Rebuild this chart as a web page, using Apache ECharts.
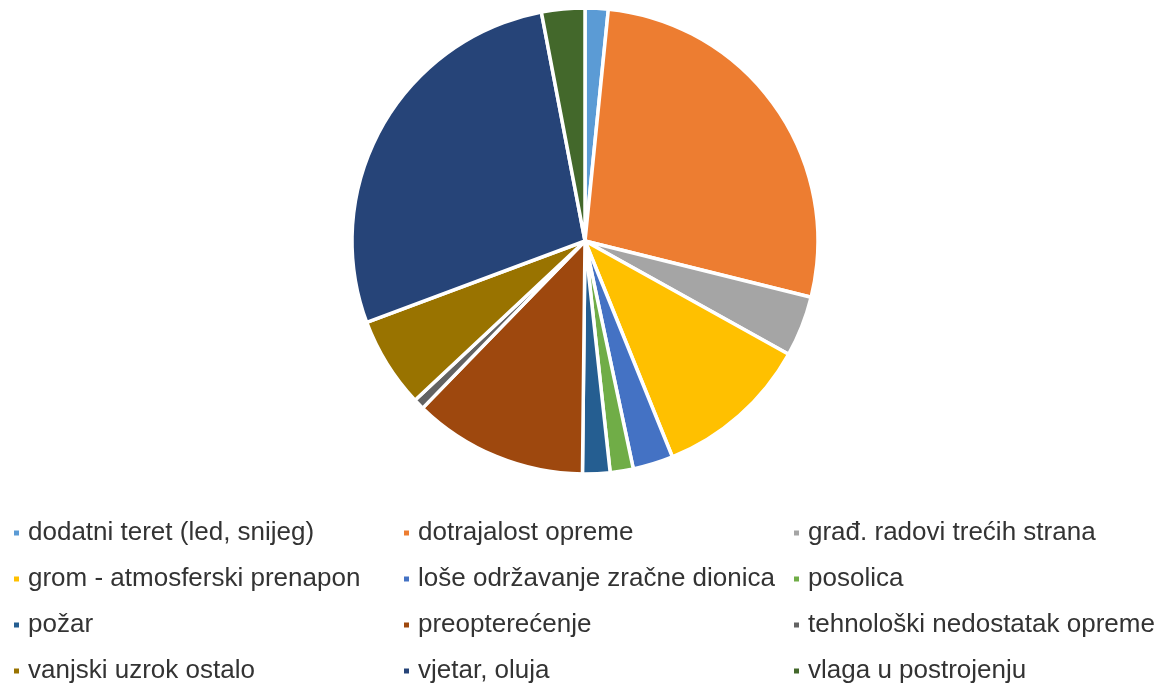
<!DOCTYPE html>
<html><head><meta charset="utf-8">
<script src="https://cdn.jsdelivr.net/npm/echarts@6/dist/echarts.min.js"></script>
<style>html,body{margin:0;padding:0;background:#fff}#c{width:1167px;height:686px}</style>
</head><body><div id="c"></div>
<script>
const categories = ['dodatni teret (led, snijeg)','dotrajalost opreme','građ. radovi trećih strana','grom - atmosferski prenapon','loše održavanje zračne dionica','posolica','požar','preopterećenje','tehnološki nedostatak opreme','vanjski uzrok ostalo','vjetar, oluja','vlaga u postrojenju'];
const values = [1.6, 27.3, 4.2, 10.8, 2.8, 1.6, 1.9, 12.1, 0.75, 6.3, 27.7, 3.0];
const colors = ['#5B9BD5','#ED7D31','#A5A5A5','#FFC000','#4472C4','#70AD47','#255E91','#9E480E','#636363','#997300','#264478','#43682B'];
const legendCols = [
  {names:[0,3,6,9], left:12},
  {names:[1,4,7,10], left:402},
  {names:[2,5,8,11], left:792}
];
const chart = echarts.init(document.getElementById('c'));
const legends = legendCols.map(c => ({
  orient:'vertical', left:c.left, top:520, itemGap:20,
  itemWidth:7, itemHeight:7, icon:'rect', padding:0,
  data:c.names.map(i=>categories[i]),
  textStyle:{fontFamily:'Liberation Sans, Arial, sans-serif', fontSize:26, lineHeight:26, color:'#333', padding:[0,0,0,3]}
}));
chart.setOption({
  animation:false,
  color:colors,
  legend:legends,
  series:[{
    type:'pie', center:[585,241], radius:233, startAngle:90, clockwise:true,
    label:{show:false}, labelLine:{show:false},
    itemStyle:{borderColor:'#fff', borderWidth:3.5},
    data:categories.map((n,i)=>({name:n, value:values[i]}))
  }]
});
</script></body></html>
